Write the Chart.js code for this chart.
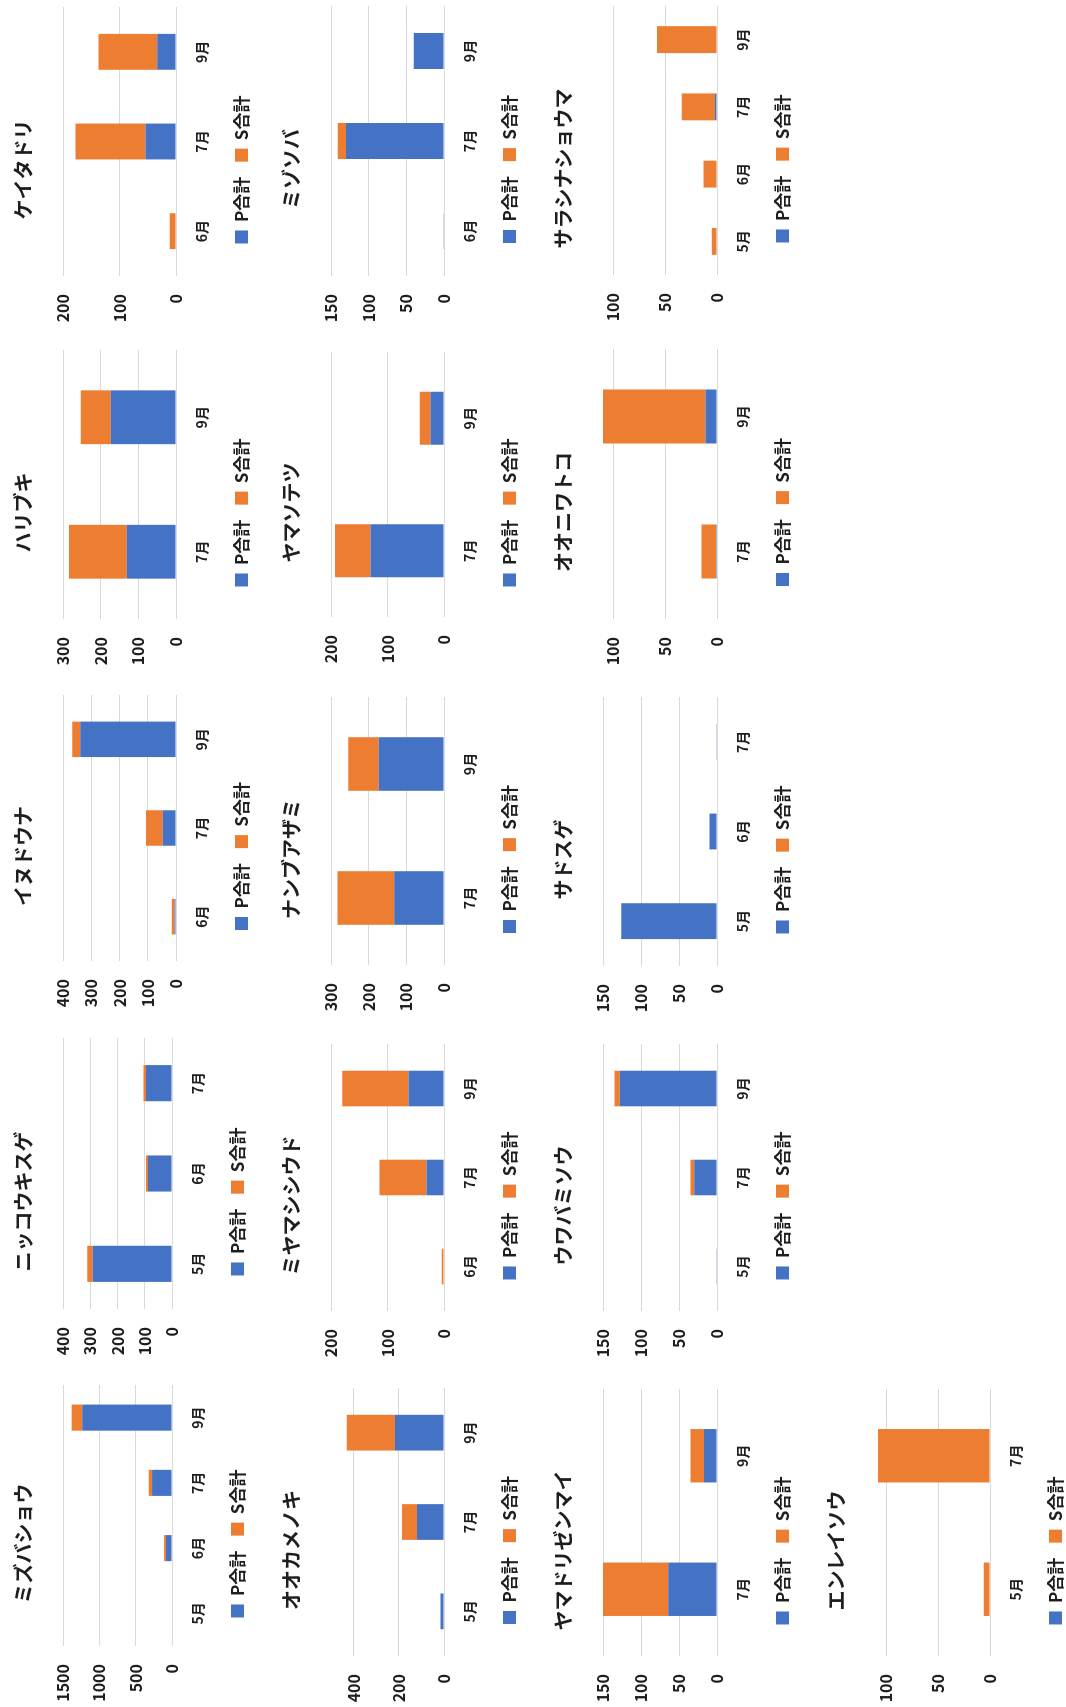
<!DOCTYPE html>
<html lang="ja">
<head>
<meta charset="utf-8">
<title>月別 P合計・S合計</title>
<script src="https://cdn.jsdelivr.net/npm/chart.js@4.4.1/dist/chart.umd.min.js"></script>
<style>
  html, body { margin: 0; padding: 0; background: #fff; overflow: hidden; }
  body { width: 1066px; height: 1707px; position: relative; }
  /* the sheet is laid out in landscape and turned a quarter turn */
  #sheet {
    position: absolute; left: 0; top: 0;
    width: 1707px; height: 1066px;
    transform-origin: 0 0;
    transform: translate(0px, 1707px) rotate(-90deg);
  }
  #sheet canvas { position: absolute; }
</style>
</head>
<body>
<div id="sheet"></div>
<script>
// ---- data ----
const species = [
  'ミズバショウ', 'ニッコウキスゲ', 'イヌドウナ', 'ハリブキ', 'ケイタドリ',
  'オオカメノキ', 'ミヤマシシウド', 'ナンブアザミ', 'ヤマソテツ', 'ミゾソバ',
  'ヤマドリゼンマイ', 'ウワバミソウ', 'サドスゲ', 'オオニワトコ', 'サラシナショウマ',
  'エンレイソウ'
];

const months = [
  ['5月', '6月', '7月', '9月'],
  ['5月', '6月', '7月'],
  ['6月', '7月', '9月'],
  ['7月', '9月'],
  ['6月', '7月', '9月'],
  ['5月', '7月', '9月'],
  ['6月', '7月', '9月'],
  ['7月', '9月'],
  ['7月', '9月'],
  ['6月', '7月', '9月'],
  ['7月', '9月'],
  ['5月', '7月', '9月'],
  ['5月', '6月', '7月'],
  ['7月', '9月'],
  ['5月', '6月', '7月', '9月'],
  ['5月', '7月']
];

const pTotal = [
  [7, 82, 274, 1235],
  [291, 88, 95],
  [5, 47, 339],
  [131, 173],
  [0, 54, 33],
  [15, 120, 217],
  [0, 31, 63],
  [132, 173],
  [130, 24],
  [1, 130, 40],
  [64, 17],
  [1, 30, 128],
  [126, 10, 1],
  [1, 11],
  [0, 0, 2, 0],
  [0, 0]
];

const sTotal = [
  [0, 27, 46, 146],
  [20, 7, 10],
  [10, 59, 28],
  [153, 80],
  [11, 124, 104],
  [0, 66, 213],
  [4, 83, 117],
  [151, 81],
  [63, 19],
  [0, 11, 0],
  [86, 18],
  [0, 5, 7],
  [0, 0, 0],
  [14, 99],
  [5, 13, 32, 58],
  [6, 108]
];

const axisMax  = [1500, 400, 400, 300, 200, 500, 200, 300, 200, 150, 150, 150, 150, 110, 110, 110];
const axisStep = [500, 100, 100, 100, 100, 200, 100, 100, 100, 50, 50, 50, 50, 50, 50, 50];

const seriesNames = ['P合計', 'S合計'];
const seriesColors = ['#4472C4', '#ED7D31'];

// ---- layout: plot area of each chart on the landscape sheet [left, top, right, bottom] ----
const plotBoxes = [
  [61, 62.5, 322, 171.7],
  [398, 62.5, 669, 171.7],
  [746, 62.5, 1012, 176],
  [1088, 62.5, 1357, 176],
  [1431, 62.5, 1700, 176],
  [51, 331, 318.6, 444],
  [396, 331, 662.5, 444],
  [741.6, 331, 1009.6, 444],
  [1090, 331, 1355, 444],
  [1431, 331, 1700.7, 444],
  [50.8, 603.3, 318.4, 717.3],
  [396, 603.3, 663, 717.3],
  [741, 603.3, 1010, 717.3],
  [1087.5, 603.3, 1357.5, 717.3],
  [1432, 603.3, 1701, 717.3],
  [50.8, 876, 318.4, 989.7]
];

const AXIS_W = 56;   // value-axis label column
const AXIS_H = 42;   // month label row
const TITLE_H = 60;  // title band
const LEGEND_H = 42; // legend band
const PAD_R = 9;

Chart.defaults.font.family = "'Noto Sans CJK JP', 'Noto Sans', sans-serif";
Chart.defaults.color = '#1e1e1e';

const sheet = document.getElementById('sheet');

species.forEach((name, i) => {
  const [l, t, r, b] = plotBoxes[i];
  const L = Math.round(l), T = Math.round(t), R = Math.round(r), B = Math.round(b);

  const canvas = document.createElement('canvas');
  canvas.width = (R - L) + AXIS_W + PAD_R;
  canvas.height = TITLE_H + (B - T) + AXIS_H + LEGEND_H;
  canvas.style.left = (L - AXIS_W) + 'px';
  canvas.style.top = (T - TITLE_H) + 'px';
  sheet.appendChild(canvas);

  new Chart(canvas, {
    type: 'bar',
    data: {
      labels: months[i],
      datasets: [
        { label: seriesNames[0], data: pTotal[i], backgroundColor: seriesColors[0], borderColor: seriesColors[0], borderWidth: 0 },
        { label: seriesNames[1], data: sTotal[i], backgroundColor: seriesColors[1], borderColor: seriesColors[1], borderWidth: 0 }
      ]
    },
    options: {
      responsive: false,
      animation: false,
      events: [],
      layout: { padding: { left: 0, right: PAD_R, top: 0, bottom: 0 } },
      datasets: { bar: { barPercentage: 0.4, categoryPercentage: 1 } },
      scales: {
        x: {
          stacked: true,
          grid: { display: false, drawTicks: false },
          border: { display: false },
          ticks: { padding: 17, maxRotation: 0, autoSkip: false, font: { size: 14, weight: 'bold' } },
          afterFit: s => { s.height = AXIS_H; }
        },
        y: {
          stacked: true,
          min: 0,
          max: axisMax[i],
          border: { display: false },
          grid: { color: '#D9D9D9', lineWidth: 1, drawTicks: false },
          ticks: {
            stepSize: axisStep[i],
            includeBounds: false,
            padding: 18,
            font: { size: 16, weight: 'bold' },
            callback: v => String(v)
          },
          afterFit: s => { s.width = AXIS_W; }
        }
      },
      plugins: {
        title: {
          display: true,
          text: name,
          font: { size: 20, weight: 'bold' },
          padding: { top: 8, bottom: 28 }
        },
        legend: {
          position: 'bottom',
          labels: { boxWidth: 13, boxHeight: 13, padding: 15, font: { size: 17, weight: 'bold' } }
        },
        tooltip: { enabled: false }
      }
    }
  });
});
</script>
</body>
</html>
